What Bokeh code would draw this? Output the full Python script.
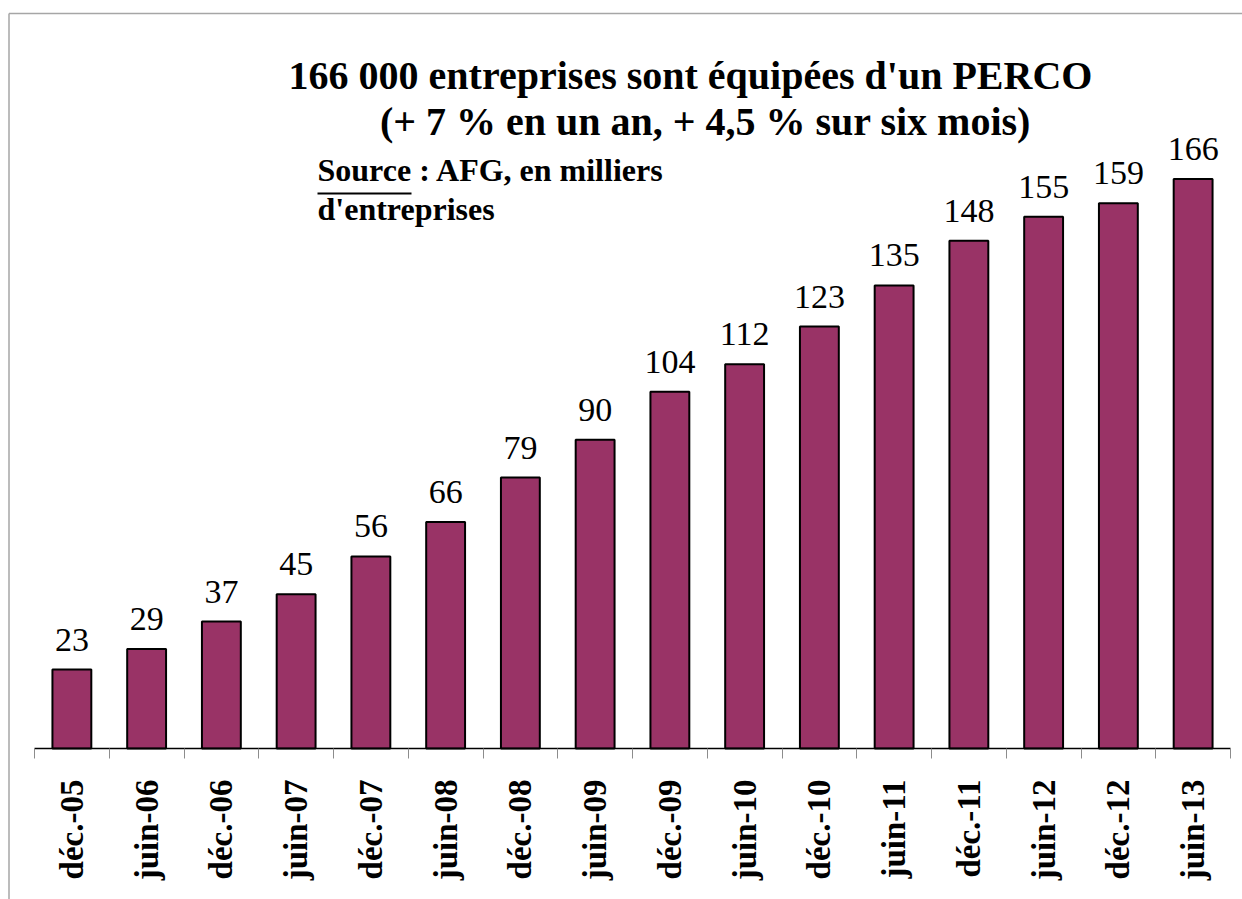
import math
from bokeh.plotting import figure
from bokeh.models import Range1d, LinearAxis, FixedTicker, Label, ColumnDataSource
from bokeh.core.properties import value
from bokeh.embed import file_html
from bokeh.resources import INLINE

# ---- data ----
categories = ["déc.-05", "juin-06", "déc.-06", "juin-07", "déc.-07", "juin-08",
              "déc.-08", "juin-09", "déc.-09", "juin-10", "déc.-10", "juin-11",
              "déc.-11", "juin-12", "déc.-12", "juin-13"]
values = [23, 29, 37, 45, 56, 66, 79, 90, 104, 112, 123, 135, 148, 155, 159, 166]
title_line1 = "166 000 entreprises sont équipées d'un PERCO"
title_line2 = "(+ 7 % en un an, + 4,5 % sur six mois)"
source_line1 = "Source : AFG, en milliers"
source_line2 = "d'entreprises"

# ---- geometry ----
W, H = 1242, 899
n = len(categories)
AX_LEFT, AX_RIGHT, BASE_Y = 34, 1230, 748
SX = (AX_RIGHT - AX_LEFT) / n      # px per category
SY = 3.43                           # px per unit

x_start = -0.5 - AX_LEFT / SX
x_end = (n - 0.5) + (W - AX_RIGHT) / SX
y_start = -(H - BASE_Y) / SY
y_end = BASE_Y / SY

def xd(px):
    return x_start + px / SX

def yd(py):
    return y_end - py / SY

p = figure(width=W, height=H, output_backend="svg", toolbar_location=None,
           x_range=Range1d(x_start, x_end), y_range=Range1d(y_start, y_end),
           x_axis_type=None, y_axis_type=None,
           min_border=0, min_border_left=0, min_border_right=0,
           min_border_top=0, min_border_bottom=0)
p.outline_line_color = None
p.background_fill_color = "white"
p.border_fill_color = "white"
p.xgrid.visible = False
p.ygrid.visible = False

idx = list(range(n))
src = ColumnDataSource(dict(x=idx, top=values, lab=[str(v) for v in values]))

p.vbar(x="x", top="top", bottom=0, width=0.52, source=src,
       fill_color="#993366", line_color="black", line_width=2)

# baseline
p.segment(x0=[-0.5], y0=[0], x1=[n - 0.5], y1=[0], line_color="black", line_width=1.5)

# value labels
p.text(x="x", y="top", text="lab", source=src, y_offset=-30,
       text_align="center", text_baseline="alphabetic",
       text_font=value("Liberation Serif"), text_font_size="34px", text_color="black")

# x axis at y = 0
ticker = FixedTicker(ticks=idx, minor_ticks=[i - 0.5 for i in range(n + 1)])
xaxis = LinearAxis(ticker=ticker, fixed_location=0)
xaxis.major_label_overrides = {i: c for i, c in zip(idx, categories)}
xaxis.axis_line_color = None
xaxis.major_tick_line_color = None
xaxis.major_tick_in = 0
xaxis.major_tick_out = 0
xaxis.minor_tick_in = 0
xaxis.minor_tick_out = 10
xaxis.minor_tick_line_color = "#8c8c8c"
xaxis.minor_tick_line_width = 1
xaxis.major_label_orientation = math.pi / 2
xaxis.major_label_standoff = 21
xaxis.major_label_text_font = "Liberation Serif"
xaxis.major_label_text_font_style = "bold"
xaxis.major_label_text_font_size = "33px"
xaxis.major_label_text_color = "black"
p.add_layout(xaxis, "below")

# border
p.segment(x0=[xd(8.5), xd(8.5)], y0=[yd(13), yd(13)], x1=[xd(8.5), xd(W)], y1=[yd(H), yd(13)],
          line_color="#a6a6a6", line_width=1.5)

# titles
SHIFT = 12
p.add_layout(Label(x=xd(690), y=yd(87 - SHIFT), text=title_line1, text_align="center",
                   text_baseline="alphabetic", text_font="Liberation Serif",
                   text_font_style="bold", text_font_size="40px", text_color="black"))
p.add_layout(Label(x=xd(705), y=yd(133 - SHIFT), text=title_line2, text_align="center",
                   text_baseline="alphabetic", text_font="Liberation Serif",
                   text_font_style="bold", text_font_size="40px", text_color="black"))
p.add_layout(Label(x=xd(317), y=yd(181 - SHIFT), text=source_line1, text_align="left",
                   text_baseline="alphabetic", text_font="Liberation Serif",
                   text_font_style="bold", text_font_size="32px", text_color="black"))
p.add_layout(Label(x=xd(317), y=yd(220 - SHIFT), text=source_line2, text_align="left",
                   text_baseline="alphabetic", text_font="Liberation Serif",
                   text_font_style="bold", text_font_size="32px", text_color="black"))
# underline of "Source"
p.segment(x0=[xd(317)], y0=[yd(193)], x1=[xd(411)], y1=[yd(193)],
          line_color="black", line_width=2)

open("out.html", "w").write(file_html(p, INLINE))
